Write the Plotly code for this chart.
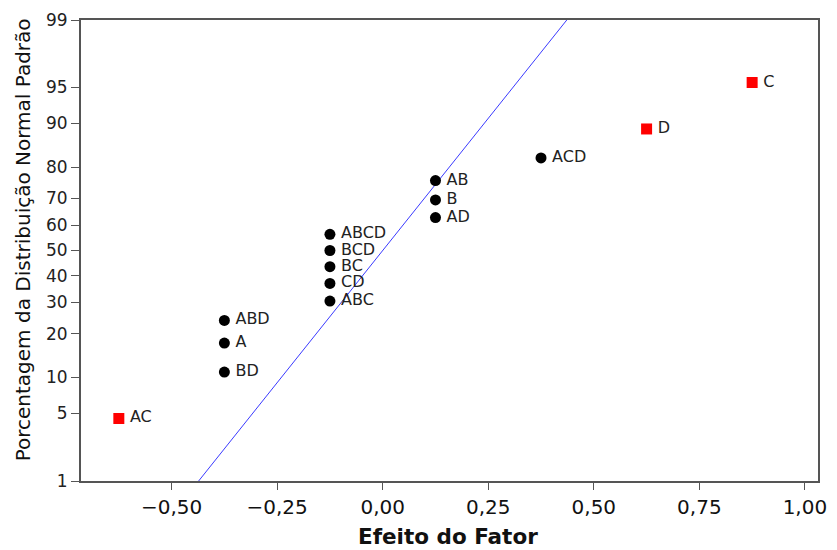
import plotly.graph_objects as go
from statistics import NormalDist

nd = NormalDist()

# Effects (x) and normal probability percentages (y)
terms = ["AC", "BD", "A", "ABD", "ABC", "CD", "BC", "BCD", "ABCD", "AD", "B", "AB", "ACD", "D", "C"]
effects = [-0.625, -0.375, -0.375, -0.375, -0.125, -0.125, -0.125, -0.125, -0.125,
           0.125, 0.125, 0.125, 0.375, 0.625, 0.875]
percents = [4.5, 11.0, 17.5, 24.0, 30.5, 37.0, 43.5, 50.0, 56.5, 63.0, 69.5, 76.0, 82.5, 89.0, 95.5]
significant = ["AC", "D", "C"]

# Reference line (fit) endpoints
line_pct = [1, 99]
line_x = [-0.436, 0.436]

y_ticks = [1, 5, 10, 20, 30, 40, 50, 60, 70, 80, 90, 95, 99]
x_ticks = [-0.50, -0.25, 0.00, 0.25, 0.50, 0.75, 1.00]

def z(p):
    return nd.inv_cdf(p / 100.0)

font_family = "DejaVu Sans, Verdana, sans-serif"
pad = "\u2009"

fig = go.Figure()
fig.add_trace(go.Scatter(
    x=line_x, y=[z(p) for p in line_pct], mode="lines",
    line=dict(color="#3a3aff", width=1), hoverinfo="skip", showlegend=False))

nx = [e for e, t in zip(effects, terms) if t not in significant]
ny = [z(p) for p, t in zip(percents, terms) if t not in significant]
nt = [pad + t for t in terms if t not in significant]
sx = [e for e, t in zip(effects, terms) if t in significant]
sy = [z(p) for p, t in zip(percents, terms) if t in significant]
st = [pad + t for t in terms if t in significant]

fig.add_trace(go.Scatter(
    x=nx, y=ny, text=nt, mode="markers+text", textposition="middle right",
    marker=dict(symbol="circle", size=11, color="black"),
    textfont=dict(family=font_family, size=16, color="#222"), showlegend=False))
fig.add_trace(go.Scatter(
    x=sx, y=sy, text=st, mode="markers+text", textposition="middle right",
    marker=dict(symbol="square", size=11, color="#ff0000"),
    textfont=dict(family=font_family, size=16, color="#222"), showlegend=False))

fig.update_layout(
    width=837, height=550,
    margin=dict(l=81, r=10, t=15, b=69),
    plot_bgcolor="white", paper_bgcolor="white",
    separators=",.",
    font=dict(family=font_family, size=15, color="#222"),
    xaxis=dict(
        range=[-0.7146, 1.031], tickvals=x_ticks, tickformat=".2f",
        showgrid=False, zeroline=False, showline=True, mirror=True,
        linecolor="#555", linewidth=2, ticks="outside", ticklen=7, tickcolor="#555",
        tickfont=dict(size=20, color="#111"),
    ),
    yaxis=dict(
        range=[z(1), z(99)], tickvals=[z(p) for p in y_ticks], ticktext=[str(p) for p in y_ticks],
        showgrid=False, zeroline=False, showline=True, mirror=True,
        linecolor="#555", linewidth=2, ticks="outside", ticklen=8, tickcolor="#555",
        tickfont=dict(size=17, color="#222"),
    ),
    annotations=[
        dict(text="<b>Efeito do Fator</b>", showarrow=False,
             font=dict(size=21.5, color="#111"), yanchor="middle"),
        dict(text="Porcentagem da Distribuição Normal Padrão", showarrow=False, textangle=-90,
             font=dict(size=20, color="#111"), xanchor="center", yanchor="middle"),
    ],
)

plot_w = 837 - 81 - 10
plot_h = 550 - 15 - 69
fig.layout.annotations[0].update(x=(452 - 81) / plot_w, y=(550 - 69 - 537) / plot_h, xref="paper", yref="paper")
fig.layout.annotations[1].update(x=(22 - 81) / plot_w, y=(550 - 69 - 237) / plot_h, xref="paper", yref="paper")

fig.write_html("out.html")
